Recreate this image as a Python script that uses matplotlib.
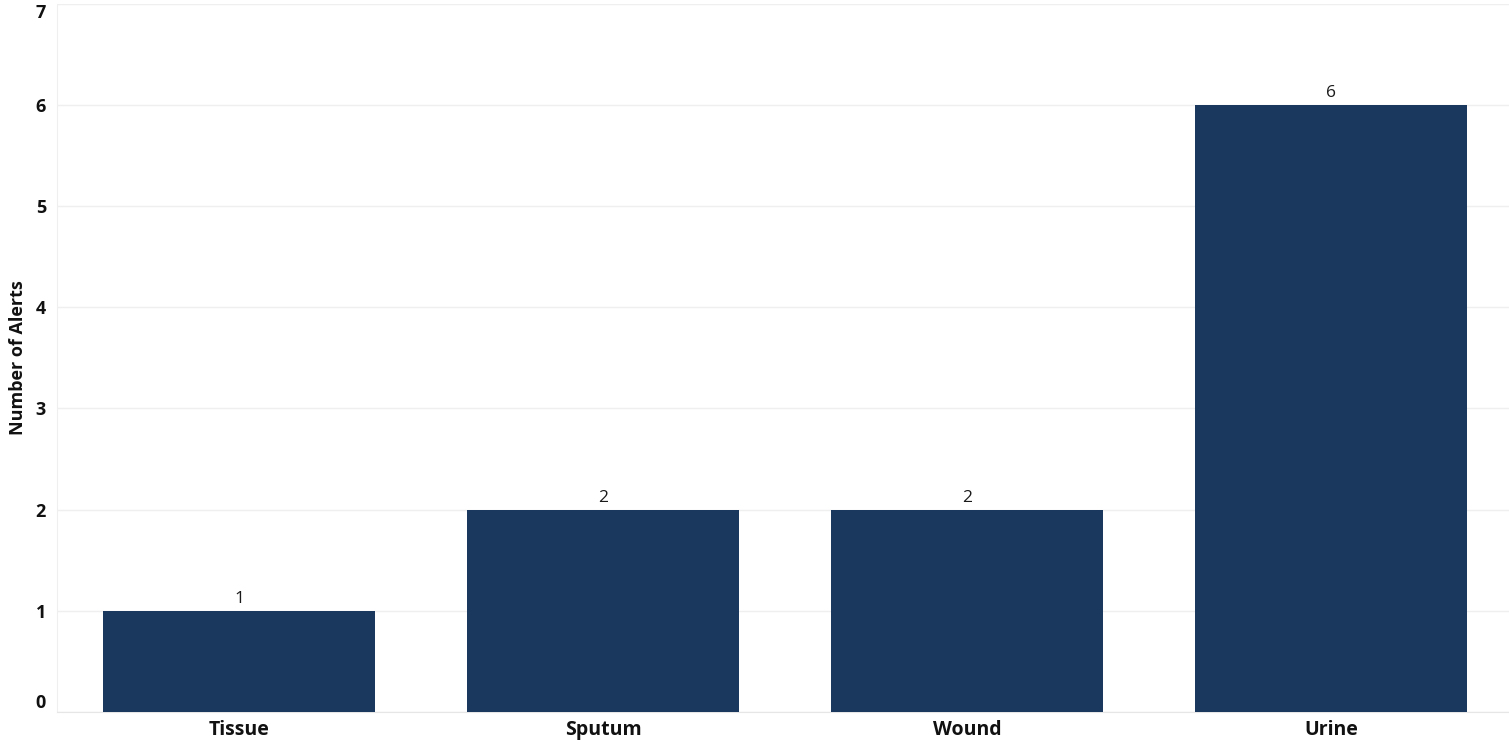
import matplotlib.pyplot as plt

# Data
categories = ["Tissue", "Sputum", "Wound", "Urine"]
alerts = [1, 2, 2, 6]
y_ticks = [0, 1, 2, 3, 4, 5, 6, 7]

plt.rcParams["font.family"] = ["Open Sans", "DejaVu Sans"]

fig = plt.figure(figsize=(15.09, 7.5), dpi=100)
ax = fig.add_axes([0.0378, 0.0507, 0.9622, 0.9445])

x = range(len(categories))
bars = ax.bar(x, alerts, width=0.747, color="#1a375e", zorder=3)

for xi, v in zip(x, alerts):
    ax.text(xi, v + 0.04, str(v), ha="center", va="bottom", fontsize=12.5,
            fontweight="medium", color="#1a1a1a")

ax.set_xlim(-0.5, 3.489)
ax.set_ylim(0, 7)
ax.set_xticks(list(x))
ax.set_xticklabels(categories, fontsize=14, fontweight="bold", color="#111111")
ax.set_yticks(y_ticks)
ax.set_yticklabels([str(t) for t in y_ticks], fontsize=13, fontweight="bold", color="#111111")

labels = ax.get_yticklabels()
labels[0].set_va("bottom")
labels[-1].set_va("top")

ax.tick_params(axis="both", length=0)
ax.tick_params(axis="y", pad=8)
ax.tick_params(axis="x", pad=6)

ax.grid(axis="y", color="#efefef", linewidth=1, zorder=0)
for side in ["top", "right"]:
    ax.spines[side].set_visible(False)
ax.spines["left"].set_color("#efefef")
ax.spines["bottom"].set_color("#e6e6e6")

ax.set_ylabel("Number of Alerts", fontsize=13, fontweight="bold", color="#111111", labelpad=6)

fig.savefig("out.png", dpi=100)
